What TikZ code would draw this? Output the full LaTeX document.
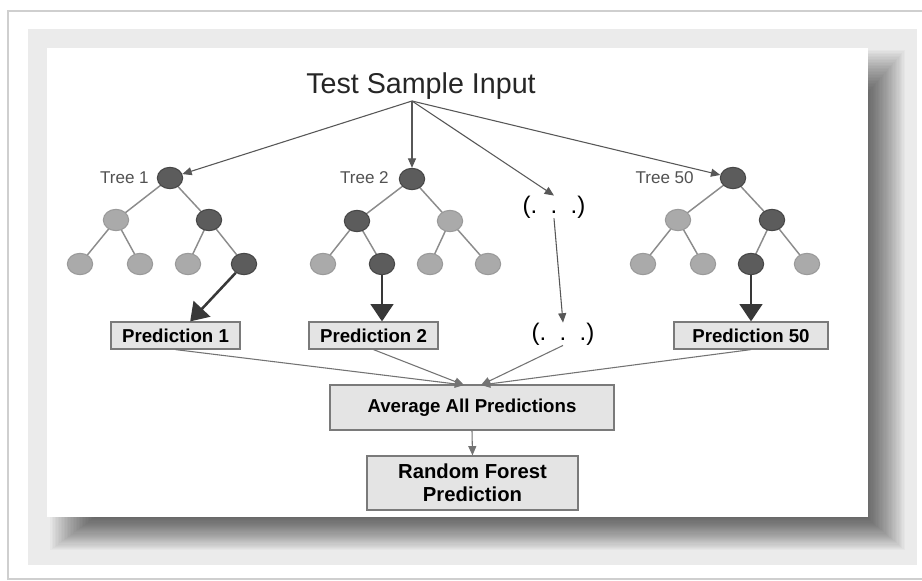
\documentclass[tikz,border=0pt]{standalone}
\usepackage{fontspec}
\setmainfont{Liberation Sans}
\usetikzlibrary{shapes.geometric,arrows.meta}

\definecolor{framegray}{HTML}{CFCFCF}
\definecolor{panelgray}{HTML}{EBEBEB}
\definecolor{darknode}{HTML}{5C5C5C}
\definecolor{darkrim}{HTML}{474747}
\definecolor{lightnode}{HTML}{AAAAAA}
\definecolor{lightrim}{HTML}{9A9A9A}
\definecolor{branch}{HTML}{8C8C8C}
\definecolor{boxfill}{HTML}{E4E4E4}
\definecolor{boxrim}{HTML}{7A7A7A}

\tikzset{
  dnode/.style={ellipse, draw=darkrim, fill=darknode, line width=0.8pt,
    minimum width=19pt, minimum height=16pt, inner sep=0pt},
  lnode/.style={ellipse, draw=lightrim, fill=lightnode, line width=0.8pt,
    minimum width=19pt, minimum height=16pt, inner sep=0pt},
  branchline/.style={draw=branch, line width=1.1pt},
  treelabel/.style={anchor=east, inner sep=0pt, text=black!68,
    font=\fontsize{12.8}{14}\selectfont},
  predbox/.style={draw=boxrim, fill=boxfill, line width=0.9pt, inner sep=0pt,
    minimum height=20.25pt, font=\bfseries\fontsize{14}{16}\selectfont},
  bigbox/.style={draw=boxrim, fill=boxfill, line width=0.9pt, inner sep=0pt,
    align=center},
  feed/.style={draw=black!66, line width=0.8pt,
    -{Triangle[width=6pt,length=7pt]}},
  merge/.style={draw=black!55, line width=0.8pt,
    -{Triangle[width=6pt,length=7pt]}},
  vote/.style={draw=black!78, line width=1.9pt,
    -{Triangle[width=17pt,length=13pt]}},
  dotstext/.style={inner sep=0pt, font=\fontsize{18}{20}\selectfont}
}

\begin{document}
\begin{tikzpicture}[x=0.75pt,y=-0.75pt]
\useasboundingbox (0,0) rectangle (922,581);
\fill[white] (0,0) rectangle (922,581);

% outer frame
\draw[framegray, line width=1.2pt] (922,11) -- (8,11) -- (8,579) -- (922,579);

% grey mount and the soft shadow of the sheet
\fill[panelgray] (28,29) rectangle (917,565);
\foreach \i in {0,...,29}
  \fill[black, opacity=0.025] (50+1.5*\i, 50+1.5*\i) rectangle (905-1.3*\i, 550-1.1*\i);
\fill[white] (47,48) rectangle (868,517);

% branches first, so the nodes sit on top
\coordinate (b1r) at (170,178); \coordinate (b1a) at (116,220); \coordinate (b1b) at (209,220);
\coordinate (b1c) at (80,264);  \coordinate (b1d) at (140,264); \coordinate (b1e) at (188,264);
\coordinate (b1f) at (244,264);
\coordinate (b2r) at (412,179); \coordinate (b2a) at (357,221); \coordinate (b2b) at (450,221);
\coordinate (b2c) at (323,264); \coordinate (b2d) at (382,264); \coordinate (b2e) at (430,264);
\coordinate (b2f) at (488,264);
\coordinate (b3r) at (733,178); \coordinate (b3a) at (678,220); \coordinate (b3b) at (772,220);
\coordinate (b3c) at (643,264); \coordinate (b3d) at (703,264); \coordinate (b3e) at (751,264);
\coordinate (b3f) at (807,264);
\foreach \t in {b1,b2,b3} {
  \draw[branchline] (\t r) -- (\t a);
  \draw[branchline] (\t r) -- (\t b);
  \draw[branchline] (\t a) -- (\t c);
  \draw[branchline] (\t a) -- (\t d);
  \draw[branchline] (\t b) -- (\t e);
  \draw[branchline] (\t b) -- (\t f);
}

% input
\node[inner sep=0pt, text=black!85, font=\fontsize{21.5}{24}\selectfont] (input) at (421,86) {Test Sample Input};
\coordinate (src) at (412,101);

% tree 1
\node[dnode] (t1r) at (b1r) {};
\node[lnode] (t1a) at (b1a) {};
\node[dnode] (t1b) at (b1b) {};
\node[lnode] (t1c) at (b1c) {};
\node[lnode] (t1d) at (b1d) {};
\node[lnode] (t1e) at (b1e) {};
\node[dnode] (t1f) at (b1f) {};
\node[treelabel] (t1l) at (149,178) {Tree 1};

% tree 2
\node[dnode] (t2r) at (b2r) {};
\node[dnode] (t2a) at (b2a) {};
\node[lnode] (t2b) at (b2b) {};
\node[lnode] (t2c) at (b2c) {};
\node[dnode] (t2d) at (b2d) {};
\node[lnode] (t2e) at (b2e) {};
\node[lnode] (t2f) at (b2f) {};
\node[treelabel] (t2l) at (389,178) {Tree 2};

% tree 50
\node[dnode] (t3r) at (b3r) {};
\node[lnode] (t3a) at (b3a) {};
\node[dnode] (t3b) at (b3b) {};
\node[lnode] (t3c) at (b3c) {};
\node[lnode] (t3d) at (b3d) {};
\node[dnode] (t3e) at (b3e) {};
\node[lnode] (t3f) at (b3f) {};
\node[treelabel] (t3l) at (694,178) {Tree 50};

% the other trees
\node[dotstext] (dots1) at (554,207) {(.\ \ .\ \ .)};
\node[dotstext] (dots2) at (563,334) {(.\ \ .\ \ .)};

% per-tree predictions
\node[predbox, minimum width=96.75pt] (p1) at (175.5,335.5) {Prediction 1};
\node[predbox, minimum width=96.75pt] (p2) at (373.5,335.5) {Prediction 2};
\node[predbox, minimum width=115.5pt] (p3) at (751,335.5) {Prediction 50};

% aggregation
\node[bigbox, minimum width=213pt, minimum height=33.75pt,
  font=\bfseries\fontsize{14}{16}\selectfont] (avg) at (472,407.5) {Average All Predictions};
\node[bigbox, minimum width=158.25pt, minimum height=40.5pt,
  font=\bfseries\fontsize{15.2}{17.2}\selectfont] (rf) at (472.5,483) {Random Forest\\Prediction};
\coordinate (inL) at (464,385);
\coordinate (inR) at (481,385);

% input to trees
\draw[feed] (src) -- (t1r);
\draw[feed] (src) -- (t2r);
\draw[feed] (src) -- (dots1.north);
\draw[feed] (src) -- (t3r);
\draw[feed] (dots1.south) -- (dots2.north);

% leaf to prediction
\draw[vote] (t1f) -- ([xshift=11pt]p1.north);
\draw[vote] (t2d) -- (t2d |- p2.north);
\draw[vote] (t3e) -- (t3e |- p3.north);

% predictions to average
\draw[merge] (p1.south) -- (inL);
\draw[merge] (p2.south) -- (inL);
\draw[merge] (dots2.south) -- (inR);
\draw[merge] (p3.south) -- (inR);
\draw[merge] (avg.south) -- (rf.north);
\end{tikzpicture}
\end{document}
